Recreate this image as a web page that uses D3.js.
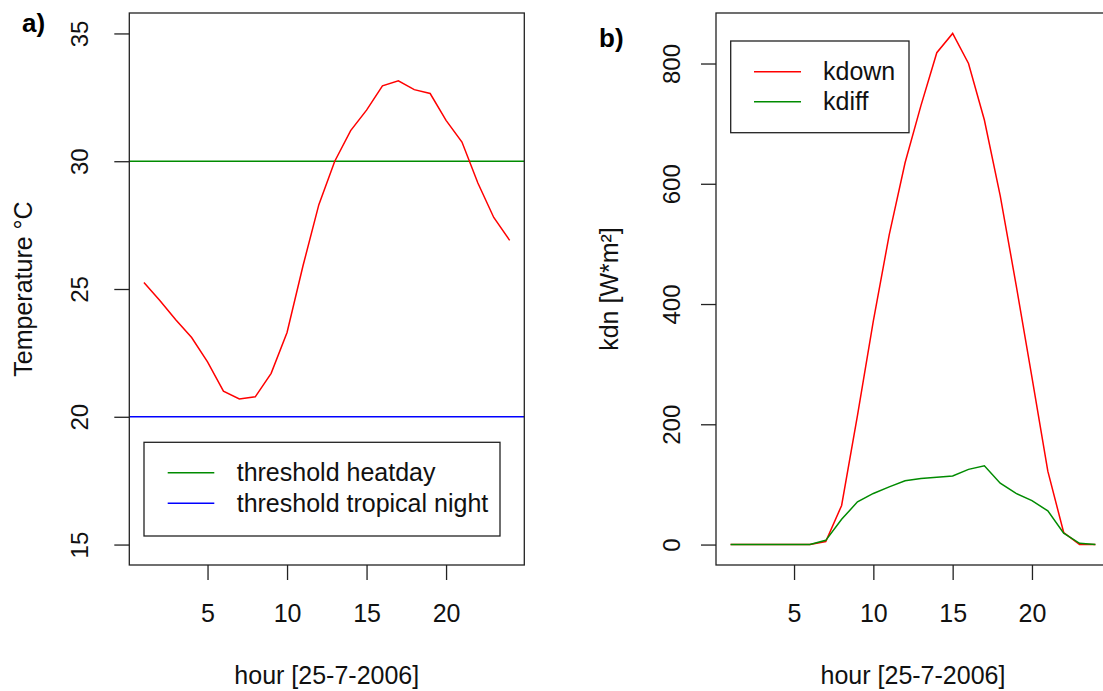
<!DOCTYPE html>
<html>
<head>
<meta charset="utf-8">
<script src="https://cdn.jsdelivr.net/npm/d3@7"></script>
<style>
    body { margin: 0; background: #fff; }
    svg { display: block; font-family: 'Liberation Sans', Arial, sans-serif; }
</style>
</head>
<body>
<div id="chart"></div>
<script>
// Data
const hours = d3.range(1, 25);
const temperature = [25.25, 24.55, 23.8, 23.1, 22.15, 21.0, 20.7, 20.78, 21.7, 23.3, 25.9, 28.3,
    30.0, 31.2, 32.0, 32.95, 33.15, 32.8, 32.65, 31.6, 30.75, 29.15, 27.8, 26.9];
const kdown = [0, 0, 0, 0, 0, 0, 5, 65, 215, 372, 515, 635, 730, 818, 850, 800, 706, 580, 432, 278, 122, 20, 0, 0];
const kdiff = [0, 0, 0, 0, 0, 0, 7, 42, 71, 85, 96, 106, 110, 112, 114, 125, 131, 102, 85, 73, 56, 19, 2, 0];
const thresholds = [
    { name: 'threshold heatday', value: 30, color: '#008B00' },
    { name: 'threshold tropical night', value: 20, color: '#0000FF' },
];
const radSeries = [
    { name: 'kdown', values: kdown, color: '#FF0000' },
    { name: 'kdiff', values: kdiff, color: '#008B00' },
];
const xTicks = [5, 10, 15, 20];
const tempTicks = [15, 20, 25, 30, 35];
const radTicks = [0, 200, 400, 600, 800];
const xLabel = 'hour [25-7-2006]';

// Dimensions
const dimensions = { width: 1103, height: 691, top: 13, bottom: 565 };

const svg = d3.select('#chart')
    .append('svg')
    .attr('width', dimensions.width)
    .attr('height', dimensions.height);

// one R-style panel: box, ticks, rotated y labels
function panel(opts) {
    const xScale = d3.scaleLinear()
        .domain([0.08, 24.92])
        .range([opts.left, opts.right]);
    const yScale = d3.scaleLinear()
        .domain(opts.yDomain)
        .range([dimensions.bottom, dimensions.top]);

    const g = svg.append('g');

    const xAxis = d3.axisBottom(xScale).tickValues(xTicks).tickSize(15).tickSizeOuter(0);
    const xg = g.append('g')
        .attr('transform', `translate(0, ${dimensions.bottom})`)
        .call(xAxis);
    xg.select('.domain').remove();
    xg.selectAll('line').attr('stroke', '#222').attr('stroke-width', 1.3);
    xg.selectAll('text')
        .attr('y', 57).attr('dy', 0)
        .attr('fill', '#111')
        .style('font-size', '25px');

    const yAxis = d3.axisLeft(yScale).tickValues(opts.yTicks).tickSize(15).tickSizeOuter(0);
    const yg = g.append('g')
        .attr('transform', `translate(${opts.left}, 0)`)
        .call(yAxis);
    yg.select('.domain').remove();
    yg.selectAll('line').attr('stroke', '#222').attr('stroke-width', 1.3);
    yg.selectAll('text')
        .attr('x', 0).attr('dy', 0)
        .attr('y', -opts.labelGap)
        .attr('transform', 'rotate(-90)')
        .attr('text-anchor', 'middle')
        .attr('fill', '#111')
        .style('font-size', '24px');

    // axis titles
    g.append('text')
        .attr('x', (opts.left + opts.right) / 2)
        .attr('y', 684)
        .attr('text-anchor', 'middle')
        .attr('fill', '#111')
        .style('font-size', '25px')
        .text(xLabel);

    g.append('text')
        .attr('transform', `translate(${opts.yTitleX}, ${(dimensions.top + dimensions.bottom) / 2}) rotate(-90)`)
        .attr('text-anchor', 'middle')
        .attr('fill', '#111')
        .style('font-size', '25px')
        .text(opts.yTitle);

    g.append('text')
        .attr('x', opts.tag[0])
        .attr('y', opts.tag[1])
        .attr('font-weight', 'bold')
        .attr('fill', '#000')
        .style('font-size', '26px')
        .text(opts.tagText);

    return { g, xScale, yScale };
}

// Panel a)
const a = panel({
    left: 129.3, right: 524.3,
    yDomain: [14.2, 35.8], yTicks: tempTicks,
    labelGap: 41, yTitle: 'Temperature °C', yTitleX: 32,
    tag: [22, 32], tagText: 'a)',
});

const plotA = a.g.append('g');
plotA.selectAll('.thr')
    .data(thresholds)
    .join('line')
    .attr('x1', 129.3).attr('x2', 524.3)
    .attr('y1', d => a.yScale(d.value))
    .attr('y2', d => a.yScale(d.value))
    .attr('stroke', d => d.color)
    .attr('stroke-width', 1.5);

const lineA = d3.line()
    .x((d, i) => a.xScale(hours[i]))
    .y(d => a.yScale(d));
plotA.append('path')
    .datum(temperature)
    .attr('d', lineA)
    .attr('fill', 'none')
    .attr('stroke', '#FF0000')
    .attr('stroke-width', 1.5);

a.g.append('rect')
    .attr('x', 129.3).attr('y', dimensions.top)
    .attr('width', 524.3 - 129.3).attr('height', dimensions.bottom - dimensions.top)
    .attr('fill', 'none').attr('stroke', '#222').attr('stroke-width', 1.3);

// legend a
const legA = a.g.append('g');
legA.append('rect')
    .attr('x', 144).attr('y', 442.3).attr('width', 356).attr('height', 93.7)
    .attr('fill', '#fff').attr('stroke', '#222').attr('stroke-width', 1.3);
legA.selectAll('line')
    .data(thresholds)
    .join('line')
    .attr('x1', 167.7).attr('x2', 214.3)
    .attr('y1', (d, i) => 472.7 + i * 30.6)
    .attr('y2', (d, i) => 472.7 + i * 30.6)
    .attr('stroke', d => d.color)
    .attr('stroke-width', 1.5);
legA.selectAll('text')
    .data(thresholds)
    .join('text')
    .attr('x', 236.7)
    .attr('y', (d, i) => 472.7 + i * 30.6)
    .attr('dy', '0.35em')
    .attr('fill', '#111')
    .style('font-size', '25px')
    .text(d => d.name);

// Panel b)
const b = panel({
    left: 716, right: 1110,
    yDomain: [-34, 884], yTicks: radTicks,
    labelGap: 36, yTitle: 'kdn [W*m²]', yTitleX: 618,
    tag: [599, 47], tagText: 'b)',
});

const lineB = d3.line()
    .x((d, i) => b.xScale(hours[i]))
    .y(d => b.yScale(d));
b.g.append('g')
    .selectAll('path')
    .data(radSeries)
    .join('path')
    .attr('d', d => lineB(d.values))
    .attr('fill', 'none')
    .attr('stroke', d => d.color)
    .attr('stroke-width', 1.5);

b.g.append('rect')
    .attr('x', 716).attr('y', dimensions.top)
    .attr('width', 1110 - 716).attr('height', dimensions.bottom - dimensions.top)
    .attr('fill', 'none').attr('stroke', '#222').attr('stroke-width', 1.3);

// legend b
const legB = b.g.append('g');
legB.append('rect')
    .attr('x', 730.7).attr('y', 41).attr('width', 178.3).attr('height', 91.7)
    .attr('fill', '#fff').attr('stroke', '#222').attr('stroke-width', 1.3);
legB.selectAll('line')
    .data(radSeries)
    .join('line')
    .attr('x1', 754).attr('x2', 801)
    .attr('y1', (d, i) => 71.7 + i * 30)
    .attr('y2', (d, i) => 71.7 + i * 30)
    .attr('stroke', d => d.color)
    .attr('stroke-width', 1.5);
legB.selectAll('text')
    .data(radSeries)
    .join('text')
    .attr('x', 823)
    .attr('y', (d, i) => 71.7 + i * 30)
    .attr('dy', '0.35em')
    .attr('fill', '#111')
    .style('font-size', '25px')
    .text(d => d.name);
</script>
</body>
</html>
